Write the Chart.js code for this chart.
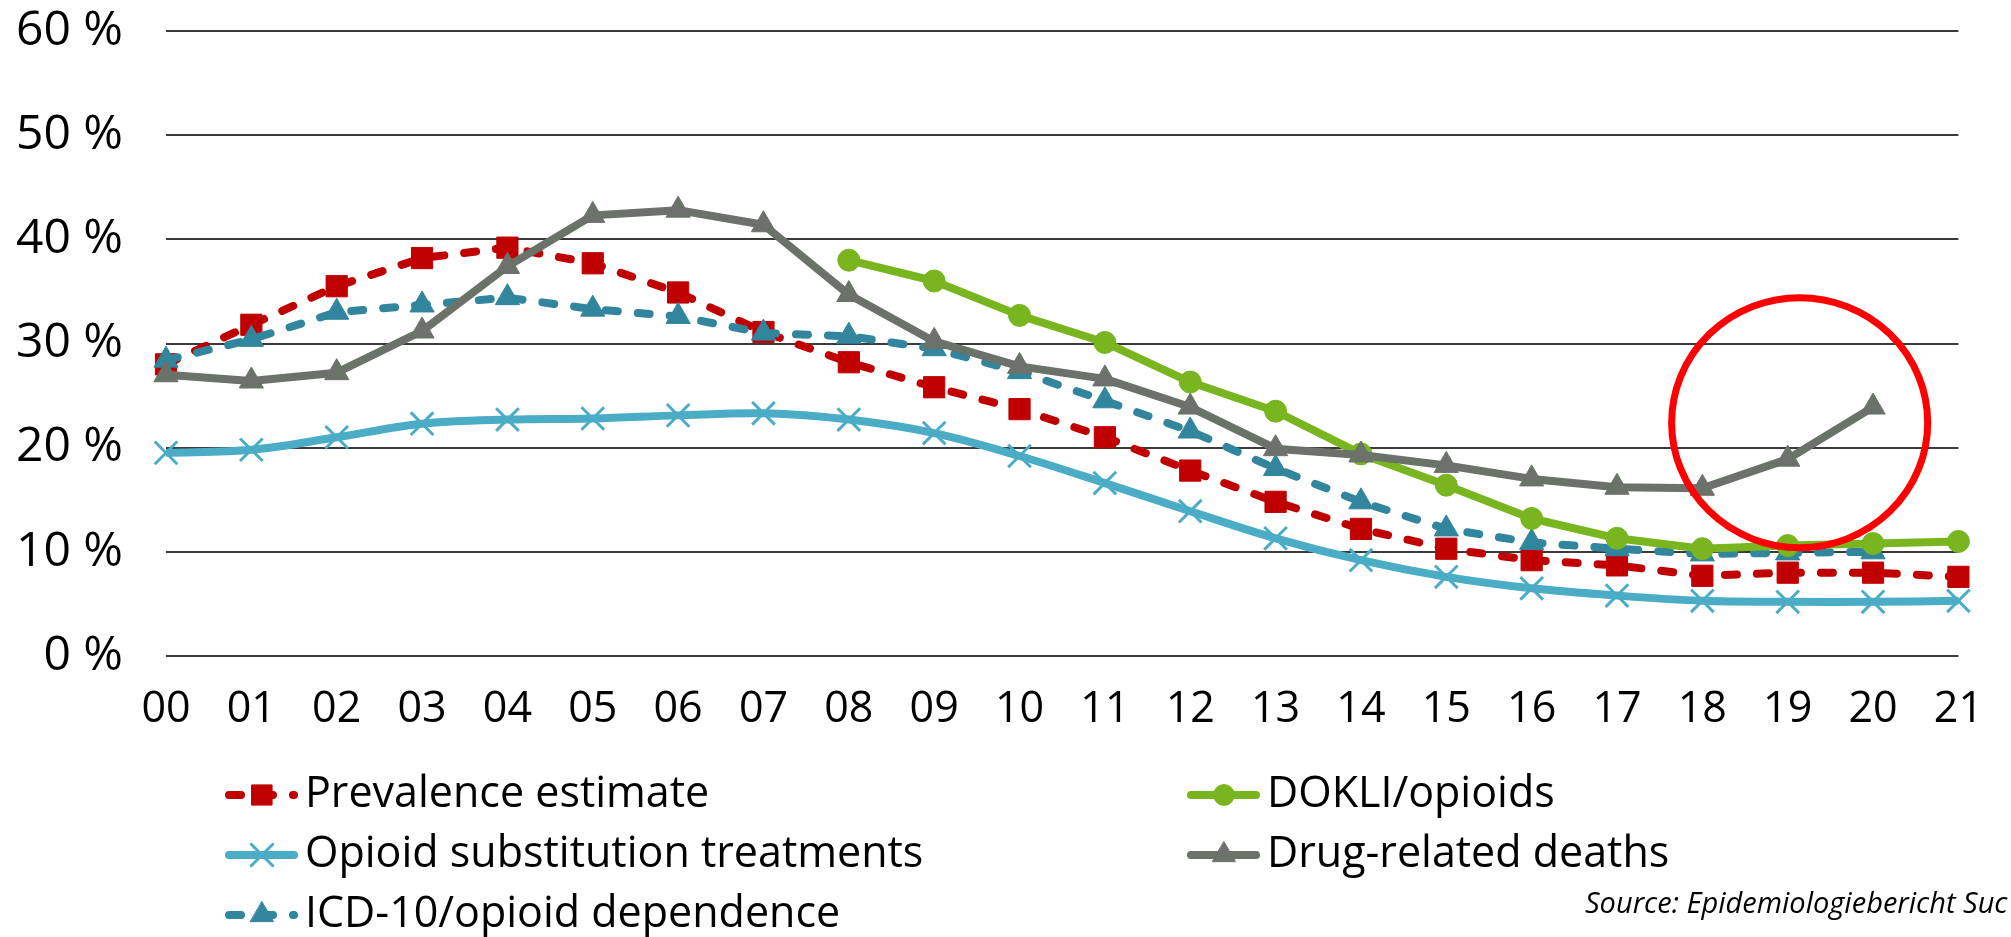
<!DOCTYPE html>
<html>
<head>
<meta charset="utf-8">
<script src="https://cdn.jsdelivr.net/npm/chart.js@4.4.1/dist/chart.umd.min.js"></script>
<style>
  html, body { margin: 0; padding: 0; background: #fff; }
  #wrap { width: 2011px; height: 937px; position: relative; }
</style>
</head>
<body>
<div id="wrap"><canvas id="chart"></canvas></div>
<script>
// Years 2000-2021, shown as two digits
const years = ['00', '01', '02', '03', '04', '05', '06', '07', '08', '09', '10',
               '11', '12', '13', '14', '15', '16', '17', '18', '19', '20', '21'];
const yTicks = [0, 10, 20, 30, 40, 50, 60];

// Shares in %
const prevalence = [28.0, 31.8, 35.5, 38.2, 39.2, 37.7, 34.9, 31.1, 28.2, 25.8, 23.7,
                    21.0, 17.8, 14.8, 12.2, 10.3, 9.2, 8.7, 7.7, 8.0, 8.0, 7.6];
const substitution = [19.5, 19.8, 21.0, 22.3, 22.7, 22.8, 23.1, 23.3, 22.7, 21.4, 19.2,
                      16.6, 13.9, 11.3, 9.2, 7.6, 6.5, 5.8, 5.3, 5.2, 5.2, 5.3];
const icd10 = [28.4, 30.4, 33.0, 33.7, 34.4, 33.3, 32.6, 31.0, 30.7, 29.5, 27.3,
               24.5, 21.6, 18.0, 14.8, 12.2, 10.9, 10.3, 9.8, 9.9, 10.0, null];
const dokli = [null, null, null, null, null, null, null, null, 38.0, 36.0, 32.7,
               30.1, 26.3, 23.5, 19.4, 16.4, 13.2, 11.3, 10.3, 10.6, 10.8, 11.0];
const deaths = [27.0, 26.4, 27.2, 31.2, 37.4, 42.3, 42.8, 41.4, 34.7, 30.2, 27.8,
                26.6, 23.9, 19.9, 19.3, 18.3, 17.0, 16.2, 16.1, 18.9, 23.9, null];

const seriesNames = ['Prevalence estimate', 'Opioid substitution treatments',
                     'ICD-10/opioid dependence', 'DOKLI/opioids', 'Drug-related deaths'];
const sourceNote = 'Source: Epidemiologiebericht Suc';

const FONT = "'Open Sans', 'Noto Sans', sans-serif";
const DASH = [12, 20];

function series(label, data, color, style, radius, dashed, order, extra) {
  return Object.assign({
    label: label,
    data: data,
    borderColor: color,
    backgroundColor: color,
    pointBackgroundColor: color,
    pointBorderColor: color,
    borderWidth: 8,
    borderDash: dashed ? DASH : [],
    borderCapStyle: dashed ? 'round' : 'butt',
    borderJoinStyle: 'round',
    pointStyle: style,
    pointRadius: radius,
    pointHoverRadius: radius,
    pointBorderWidth: 1,
    tension: 0,
    spanGaps: false,
    clip: false,
    order: order
  }, extra || {});
}

const datasets = [
  series(seriesNames[0], prevalence, '#C00000', 'rect', 15, true, 5),
  series(seriesNames[1], substitution, '#4BACC6', 'crossRot', 16, false, 4,
         { pointBorderWidth: 3, tension: 0.35 }),
  series(seriesNames[2], icd10, '#31859C', 'triangle', 14, true, 3),
  series(seriesNames[3], dokli, '#78B51F', 'circle', 11, false, 2),
  series(seriesNames[4], deaths, '#6A7269', 'triangle', 14, false, 1)
];

// Legend in two columns, filled column by column
const customLegend = {
  id: 'customLegend',
  afterDraw(chart) {
    const ctx = chart.ctx;
    const slots = [[225, 795], [225, 855], [225, 915], [1187, 795], [1187, 855]];
    chart.data.datasets.forEach((ds, i) => {
      const [x0, yc] = slots[i];
      const len = 73;
      ctx.save();
      ctx.strokeStyle = ds.borderColor;
      ctx.fillStyle = ds.backgroundColor;
      ctx.lineWidth = ds.borderWidth;
      ctx.lineCap = 'round';
      ctx.setLineDash(ds.borderDash);
      ctx.beginPath();
      ctx.moveTo(x0 + 4, yc);
      ctx.lineTo(x0 + len - 4, yc);
      ctx.stroke();
      ctx.setLineDash([]);
      ctx.lineWidth = ds.pointBorderWidth;
      Chart.helpers.drawPoint(ctx, {
        pointStyle: ds.pointStyle,
        radius: ds.pointRadius * 0.95,
        rotation: 0,
        borderWidth: ds.pointBorderWidth
      }, x0 + 37, yc);
      ctx.fillStyle = '#000';
      ctx.font = '43px ' + FONT;
      ctx.textBaseline = 'middle';
      ctx.textAlign = 'left';
      ctx.fillText(ds.label, x0 + len + 7, yc);
      ctx.restore();
    });
    ctx.save();
    ctx.fillStyle = '#000';
    ctx.font = 'italic 29px ' + FONT;
    ctx.textBaseline = 'alphabetic';
    ctx.textAlign = 'left';
    ctx.fillText(sourceNote, 1585, 913);
    ctx.restore();
  }
};

// Red ellipse highlighting the last two years of drug-related deaths
const highlight = {
  id: 'highlight',
  afterDatasetsDraw(chart) {
    const x = chart.scales.x, y = chart.scales.y;
    const cx = x.getPixelForValue(19.14);
    const cy = y.getPixelForValue(22.4);
    const rx = Math.abs(x.getPixelForValue(1.5) - x.getPixelForValue(0));
    const ry = Math.abs(y.getPixelForValue(12) - y.getPixelForValue(0));
    const ctx = chart.ctx;
    ctx.save();
    ctx.strokeStyle = '#FF0000';
    ctx.lineWidth = 7;
    ctx.beginPath();
    ctx.ellipse(cx, cy, rx, ry, 0, 0, Math.PI * 2);
    ctx.stroke();
    ctx.restore();
  }
};

new Chart(document.getElementById('chart'), {
  type: 'line',
  data: { labels: years, datasets: datasets },
  plugins: [highlight, customLegend],
  options: {
    responsive: true,
    maintainAspectRatio: false,
    animation: false,
    layout: { padding: { top: 31, right: 30, bottom: 0, left: 0 } },
    plugins: { legend: { display: false }, tooltip: { enabled: false } },
    scales: {
      x: {
        offset: false,
        grid: { display: false, drawTicks: false },
        border: { display: false },
        ticks: {
          color: '#000',
          font: { family: FONT, size: 43 },
          padding: 28,
          maxRotation: 0,
          autoSkip: false
        },
        afterFit: (scale) => { scale.height = 281; }
      },
      y: {
        min: yTicks[0],
        max: yTicks[yTicks.length - 1],
        afterBuildTicks: (scale) => { scale.ticks = yTicks.map(v => ({ value: v })); },
        grid: { color: '#3a3a3a', lineWidth: 2, drawTicks: false },
        border: { display: false },
        ticks: {
          color: '#000',
          font: { family: FONT, size: 48 },
          padding: 43,
          callback: (v) => v + ' %'
        },
        afterFit: (scale) => {
          scale.width = 166;
          scale.paddingTop = 0;
          scale.paddingBottom = 0;
        }
      }
    }
  }
});
</script>
</body>
</html>
